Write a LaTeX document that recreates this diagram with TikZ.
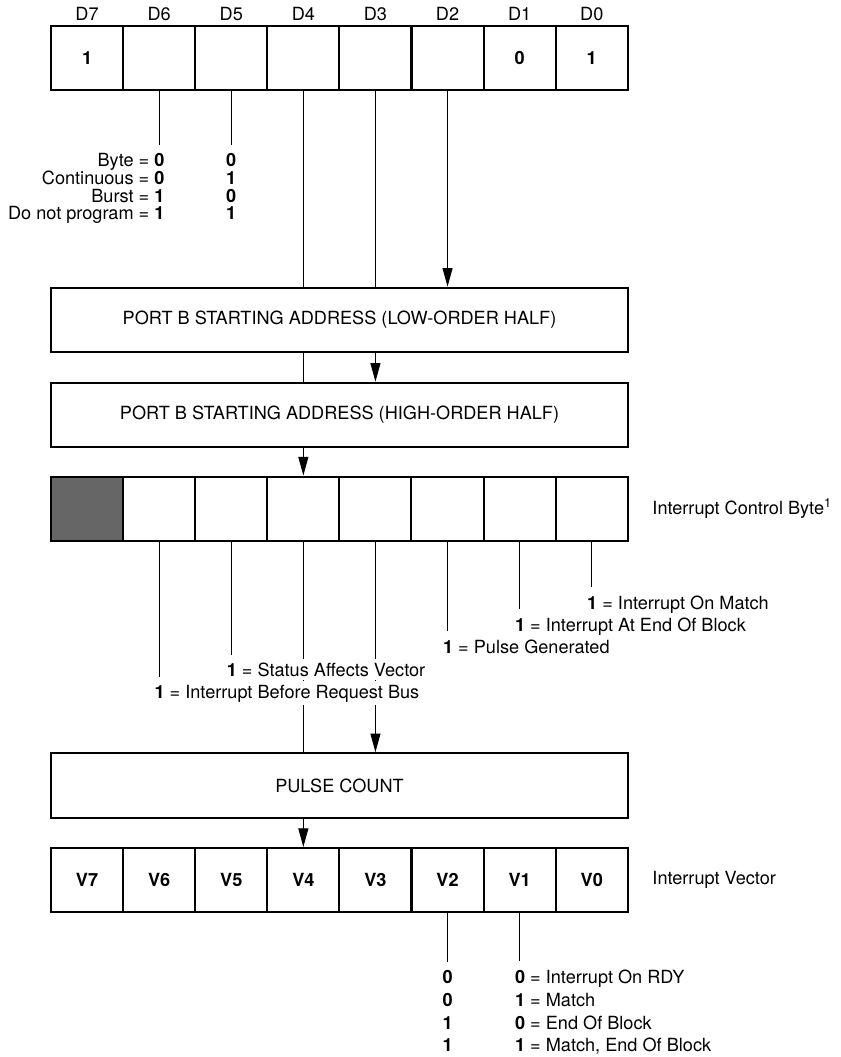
\documentclass[tikz,border=0pt]{standalone}
\usepackage{fontspec}
\setmainfont{TeX Gyre Heros}
\usetikzlibrary{arrows.meta}

\begin{document}
\fontsize{13.6}{15}\selectfont
\begin{tikzpicture}[x=0.75pt,y=-0.75pt,
  cell/.style={draw,line width=1.5pt,minimum width=54.1pt,minimum height=48pt,inner sep=0pt,font=\bfseries},
  wide/.style={draw,line width=1.5pt,minimum width=432.75pt,minimum height=48.5pt,inner sep=0pt},
  wire/.style={line width=0.8pt},
  feed/.style={wire,-{Triangle[length=14pt,width=7.5pt]}},
  note/.style={inner sep=1pt,outer ysep=5pt},
  cover/.style={note,fill=white,inner ysep=2.5pt,outer ysep=3pt},
  bitname/.style={inner sep=3pt}]
\useasboundingbox (0,0) rectangle (840,1057);

\foreach \b/\v [count=\k from 0] in {7/1,6/,5/,4/,3/,2/,1/0,0/1}
  \node[cell,label={[bitname]above:D\b}] (d\b) at ({51+72.1*(\k+0.5)},58) {\v};

\node[note,anchor=base east] (byte) at (166,166) {Byte = \textbf{0}};
\node[note,anchor=base east] (cont) at (166,184) {Continuous = \textbf{0}};
\node[note,anchor=base east] (burst) at (166,202) {Burst = \textbf{1}};
\node[note,anchor=base east] (noprog) at (166,219) {Do not program = \textbf{1}};
\node[note,anchor=base] (byte5) at (d5 |- byte.base) {\textbf{0}};
\node[note,anchor=base] (cont5) at (d5 |- cont.base) {\textbf{1}};
\node[note,anchor=base] (burst5) at (d5 |- burst.base) {\textbf{0}};
\node[note,anchor=base] (noprog5) at (d5 |- noprog.base) {\textbf{1}};
\draw[wire] (d6.south) -- (d6.south |- byte.north);
\draw[wire] (d5.south) -- (byte5.north);

\node[wide] (lo) at (339.5,320) {PORT B STARTING ADDRESS (LOW-ORDER HALF)};
\node[wide] (hi) at (339.5,415) {PORT B STARTING ADDRESS (HIGH-ORDER HALF)};
\draw[wire] (d4.south) -- (d4.south |- lo.north);
\draw[wire] (d3.south) -- (d3.south |- lo.north);
\draw[feed] (d2.south) -- (d2.south |- lo.north);
\draw[wire] (d4.south |- lo.south) -- (d4.south |- hi.north);
\draw[feed] (d3.south |- lo.south) -- (d3.south |- hi.north);

\foreach \b/\c [count=\k from 0] in {7/black!60,6/white,5/white,4/white,3/white,2/white,1/white,0/white}
  \node[cell,fill=\c] (i\b) at ({51+72.1*(\k+0.5)},508.5) {};
\node[anchor=west] (icbname) at ([xshift=13pt]i0.east) {Interrupt Control Byte\textsuperscript{1}};
\draw[feed] (d4.south |- hi.south) -- (i4.north);

\node[wide] (pc) at (339.5,785.5) {PULSE COUNT};
\draw[wire] (i4.south) -- (i4.south |- pc.north);
\draw[feed] (i3.south) -- (i3.south |- pc.north);

\node[note,anchor=base west] (onmatch) at (585.6,609) {\textbf{1} = Interrupt On Match};
\node[note,anchor=base west] (endblock) at (513.5,631) {\textbf{1} = Interrupt At End Of Block};
\node[note,anchor=base west] (pulsegen) at (441.5,653) {\textbf{1} = Pulse Generated};
\node[cover,anchor=base west] (status) at (225.2,676) {\textbf{1} = Status Affects Vector};
\node[cover,anchor=base west] (beforebus) at (153,698) {\textbf{1} = Interrupt Before Request Bus};
\draw[wire] (i0.south) -- (i0.south |- onmatch.north);
\draw[wire] (i1.south) -- (i1.south |- endblock.north);
\draw[wire] (i2.south) -- (i2.south |- pulsegen.north);
\draw[wire] (i5.south) -- (i5.south |- status.north);
\draw[wire] (i6.south) -- (i6.south |- beforebus.north);

\foreach \b [count=\k from 0] in {7,...,0}
  \node[cell] (v\b) at ({51+72.1*(\k+0.5)},880) {V\b};
\node[anchor=west] (vecname) at ([xshift=13pt]v0.east) {Interrupt Vector};
\draw[feed] (v4.north |- pc.south) -- (v4.north);

\node[note,anchor=base] (rdy2) at (v2 |- 0,983) {\textbf{0}};
\node[note,anchor=base] (match2) at (v2 |- 0,1006) {\textbf{0}};
\node[note,anchor=base] (eob2) at (v2 |- 0,1029) {\textbf{1}};
\node[note,anchor=base] (both2) at (v2 |- 0,1051) {\textbf{1}};
\node[note,anchor=base west] (rdy1) at (513.5,983) {\textbf{0} = Interrupt On RDY};
\node[note,anchor=base west] (match1) at (513.5,1006) {\textbf{1} = Match};
\node[note,anchor=base west] (eob1) at (513.5,1029) {\textbf{0} = End Of Block};
\node[note,anchor=base west] (both1) at (513.5,1051) {\textbf{1} = Match, End Of Block};
\draw[wire] (v2.south) -- (rdy2.north);
\draw[wire] (v1.south) -- (v1.south |- rdy1.north);
\end{tikzpicture}
\end{document}
